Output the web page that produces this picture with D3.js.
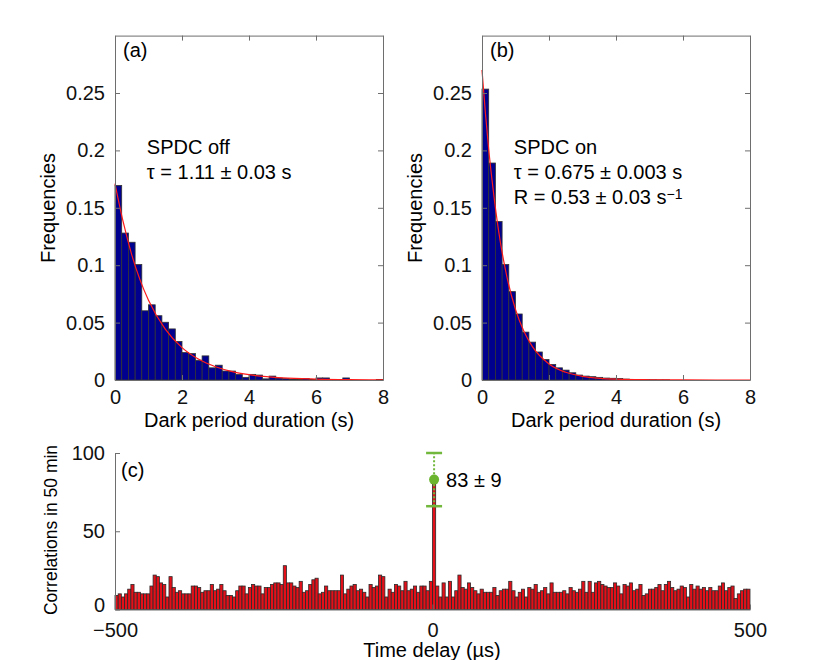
<!DOCTYPE html>
<html>
<head>
<meta charset="utf-8">
<script src="https://cdn.jsdelivr.net/npm/d3@7"></script>
<style>
  body { margin: 0; background: #fff; }
  svg { font-family: "Liberation Sans", Arial, sans-serif; }
</style>
</head>
<body>
<svg id="chart" width="830" height="660"></svg>
<script>
// histogram bins: 0.2 s wide, left edges 0 ... 7.8
const binEdges = d3.range(0, 8, 0.2)
// (a) SPDC off, frequencies per bin
const freqOff = [0.1695, 0.128, 0.120, 0.1006, 0.0603, 0.0655, 0.056, 0.0503, 0.0445, 0.0336,
  0.0239, 0.023, 0.0172, 0.021, 0.0106, 0.0129, 0.0078, 0.0078, 0.0049, 0.0023,
  0.0049, 0.0043, 0.001, 0.0034, 0.0017, 0.0012, 0.0008, 0.0005, 0.0012, 0.0005,
  0.0018, 0.0018, 0, 0.0005, 0.0018, 0, 0, 0, 0, 0.0005]
// (b) SPDC on
const freqOn = [0.2534, 0.189, 0.138, 0.1006, 0.077, 0.0575, 0.0417, 0.033, 0.0244, 0.0178,
  0.0135, 0.0106, 0.0086, 0.0063, 0.0043, 0.0034, 0.0029, 0.0023, 0.0017, 0.0015,
  0.0013, 0.0008, 0.0005, 0.0004, 0.0003, 0.0002, 0.0001, 0.0001, 0, 0,
  0, 0, 0, 0, 0, 0, 0, 0, 0, 0]
// fit curves: [t, frequency]
const fitOff = [[0, 0.171], [0.25, 0.137], [0.5, 0.109], [0.75, 0.087], [1, 0.0695], [1.5, 0.0443],
  [2, 0.0282], [2.5, 0.018], [3, 0.0115], [3.5, 0.0073], [4, 0.0047], [5, 0.0019],
  [6, 0.0008], [7, 0.0003], [8, 0.0001]]
const fitOn = [[0, 0.27], [0.1, 0.233], [0.2, 0.201], [0.3, 0.174], [0.5, 0.129], [0.75, 0.089],
  [1, 0.0615], [1.25, 0.0424], [1.5, 0.0293], [2, 0.014], [2.5, 0.0067], [3, 0.0032],
  [4, 0.0007], [5, 0.0002], [6, 0.00004], [8, 0]]

// (c) correlations, 5 us bins from -500 to 500
const corr = [9, 10, 8, 10, 13, 16, 11, 11, 10, 10, 10, 15, 22, 21, 17, 16, 8, 21, 14, 11,
  12, 10, 10, 10, 15, 15, 14, 11, 12, 12, 16, 12, 13, 16, 12, 9, 9, 8, 12, 15,
  15, 10, 14, 16, 15, 15, 10, 14,
  14, 16, 17, 17, 16, 28, 17, 17, 15, 14, 18, 11, 12, 16, 19, 20, 10, 11, 15, 12,
  12, 12, 12, 22, 10, 13, 15, 16, 12, 13, 11, 8, 16, 14, 15, 22, 21, 8, 13, 11,
  16, 15, 12, 18, 12, 13, 15, 11, 15, 15, 12, 18,
  83,
  15, 8, 17, 8, 18, 8, 12, 22, 14, 13, 17, 14, 12, 10, 13, 11, 11, 11, 14, 9,
  12, 13, 13, 18, 12, 8, 11, 13, 8, 14, 13, 16, 11, 12, 14, 10, 17, 11, 11, 11,
  12, 10, 14, 12, 11, 13, 18, 11,
  18, 11, 17, 18, 16, 15, 14, 14, 17, 15, 10, 16, 15, 17, 12, 13, 16, 9, 10, 13,
  13, 14, 16, 12, 16, 18, 14, 12, 13, 15, 14, 8, 16, 13, 15, 13, 14, 12, 14, 12,
  12, 15, 17, 12, 14, 15, 7, 10, 12, 13, 13]
const corrStart = -500, corrBin = 5
const peak = {x: 2.5, y: 83, lo: 66, hi: 100, label: '83 \u00b1 9'}

const histTicksX = [0, 2, 4, 6, 8]
const histTicksY = [0, 0.05, 0.1, 0.15, 0.2, 0.25]
const corrTicksX = [-500, 0, 500]
const corrTicksY = [0, 50, 100]

const svg = d3.select('#chart')
const fs = 20
const axisColor = '#6e6e6e'

function frame(g, x, y, xt, yt, fmtY, box, padX) {
  const [x0, x1] = x.range(), [y0, y1] = y.range()
  g.append('g').attr('transform', `translate(0,${y0})`)
    .call(d3.axisBottom(x).tickValues(xt).tickSizeInner(-5).tickSizeOuter(0).tickPadding(padX))
  g.append('g').attr('class', 'yax').attr('transform', `translate(${x0},0)`)
    .call(d3.axisLeft(y).tickValues(yt).tickSizeInner(-5).tickSizeOuter(0).tickPadding(10).tickFormat(fmtY))
  if (box) {
    g.append('g').attr('transform', `translate(0,${y1})`)
      .call(d3.axisTop(x).tickValues(xt).tickSizeInner(-5).tickSizeOuter(0).tickFormat(''))
    g.append('g').attr('transform', `translate(${x1},0)`)
      .call(d3.axisRight(y).tickValues(yt).tickSizeInner(-5).tickSizeOuter(0).tickFormat(''))
  }
  g.selectAll('.domain').attr('stroke', axisColor)
  g.selectAll('.tick line').attr('stroke', axisColor)
  g.selectAll('.tick text').attr('font-size', fs).attr('fill', '#111').attr('font-family', 'Liberation Sans, Arial')
}

function histPanel(left, data, fit, tag, lines) {
  const x = d3.scaleLinear().domain([0, 8]).range([left, left + 268])
  const y = d3.scaleLinear().domain([0, 0.3]).range([380, 35.6])
  const g = svg.append('g')
  g.selectAll('rect').data(data).join('rect')
    .attr('x', (d, i) => x(binEdges[i]))
    .attr('width', x(0.2) - x(0))
    .attr('y', d => y(d))
    .attr('height', d => y(0) - y(d))
    .attr('fill', '#00008f')
    .attr('stroke', '#333')
    .attr('stroke-width', 0.8)
  const line = d3.line().x(d => x(d[0])).y(d => y(d[1])).curve(d3.curveMonotoneX)
  g.append('path').datum(fit).attr('d', line)
    .attr('fill', 'none').attr('stroke', '#ff1a1a').attr('stroke-width', 1.2)
  frame(g, x, y, histTicksX, histTicksY, d => d === 0 ? '0' : String(d), true, 10)
  g.append('text').attr('x', x(0) + 8).attr('y', 57).attr('font-size', fs).text(tag)
  lines.forEach((t, i) => {
    const txt = g.append('text').attr('x', x(0.95)).attr('y', 154 + i * 25).attr('font-size', fs)
    t.forEach(p => txt.append('tspan').attr('baseline-shift', p.sup ? '35%' : null)
      .attr('font-size', p.sup ? 14 : null).text(p.s))
  })
  g.append('text').attr('x', (x(0) + x(8)) / 2).attr('y', 427).attr('text-anchor', 'middle')
    .attr('font-size', fs).text('Dark period duration (s)')
  g.append('text').attr('transform', `translate(${left - 60},208) rotate(-90)`).attr('text-anchor', 'middle')
    .attr('font-size', fs).text('Frequencies')
}

histPanel(115, freqOff, fitOff, '(a)', [
  [{s: 'SPDC off'}],
  [{s: '\u03c4 = 1.11 \u00b1 0.03 s'}]
])
histPanel(482, freqOn, fitOn, '(b)', [
  [{s: 'SPDC on'}],
  [{s: '\u03c4 = 0.675 \u00b1 0.003 s'}],
  [{s: 'R = 0.53 \u00b1 0.03 s'}, {s: '\u22121', sup: true}]
])

// panel (c)
const xc = d3.scaleLinear().domain([-500, 500]).range([115, 750])
const yc = d3.scaleLinear().domain([0, 100]).range([609.5, 453])
const gc = svg.append('g')
gc.selectAll('rect').data(corr).join('rect')
  .attr('x', (d, i) => xc(corrStart + i * corrBin))
  .attr('width', xc(corrBin) - xc(0))
  .attr('y', d => yc(d))
  .attr('height', d => yc(0) - yc(d))
  .attr('fill', '#e3101a')
  .attr('stroke', '#2a2a2a')
  .attr('stroke-width', 0.8)
frame(gc, xc, yc, corrTicksX, corrTicksY, d => String(d), false, 13)
// the zero label sits a little above its tick in the original
gc.selectAll('.yax .tick text').filter(d => d === 0).attr('dy', '0.1em')
// error bar on the peak
const px = xc(peak.x)
gc.append('line').attr('x1', px).attr('x2', px).attr('y1', yc(peak.lo)).attr('y2', yc(peak.hi))
  .attr('stroke', '#72b83c').attr('stroke-width', 2).attr('stroke-dasharray', '2,2')
;[peak.lo, peak.hi].forEach(v => gc.append('line')
  .attr('x1', px - 8).attr('x2', px + 8).attr('y1', yc(v)).attr('y2', yc(v))
  .attr('stroke', '#72b83c').attr('stroke-width', 2.5))
gc.append('circle').attr('cx', px).attr('cy', yc(peak.y)).attr('r', 5).attr('fill', '#6ab42e')
gc.append('text').attr('x', px + 12).attr('y', yc(peak.y) + 7).attr('font-size', fs).text(peak.label)
gc.append('text').attr('x', 121).attr('y', 477).attr('font-size', fs).text('(c)')
gc.append('text').attr('x', 432).attr('y', 657).attr('text-anchor', 'middle').attr('font-size', fs)
  .text('Time delay (\u00b5s)')
gc.append('text').attr('transform', 'translate(57,530) rotate(-90)').attr('text-anchor', 'middle')
  .attr('font-size', 17.5).text('Correlations in 50 min')
</script>
</body>
</html>
